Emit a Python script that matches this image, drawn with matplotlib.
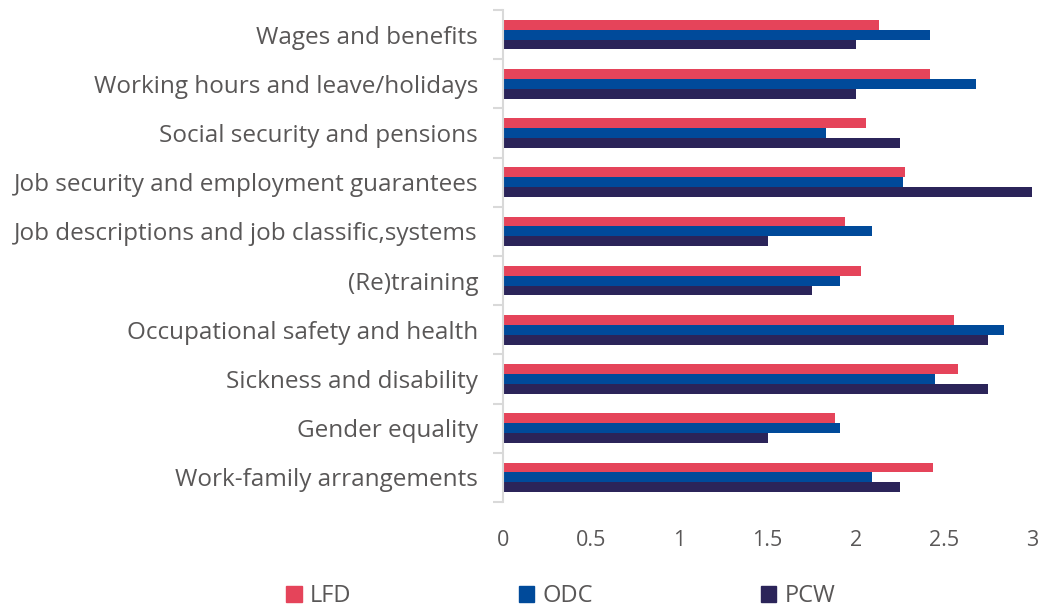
import numpy as np
import matplotlib
matplotlib.use("Agg")
import matplotlib.pyplot as plt
from matplotlib.patches import Patch

categories = [
    "Wages and benefits",
    "Working hours and leave/holidays",
    "Social security and pensions",
    "Job security and employment guarantees",
    "Job descriptions and job classific,systems",
    "(Re)training",
    "Occupational safety and health",
    "Sickness and disability",
    "Gender equality",
    "Work-family arrangements",
]
lfd = [2.13, 2.42, 2.06, 2.28, 1.94, 2.03, 2.56, 2.58, 1.88, 2.44]
odc = [2.42, 2.68, 1.83, 2.27, 2.09, 1.91, 2.84, 2.45, 1.91, 2.09]
pcw = [2.00, 2.00, 2.25, 3.00, 1.50, 1.75, 2.75, 2.75, 1.50, 2.25]
series_names = ["LFD", "ODC", "PCW"]
colors = ["#E5445A", "#004A9A", "#2B2459"]

plt.rcParams["font.family"] = ["Open Sans", "DejaVu Sans"]
text_color = "#595757"

fig = plt.figure(figsize=(10.43, 6.11), dpi=100)
ax = fig.add_axes([0.4823, 0.1784, 0.9895 - 0.4823, 0.9836 - 0.1784])

n = len(categories)
y = np.arange(n)
h = 0.2
for k, (vals, col) in enumerate(zip([lfd, odc, pcw], colors)):
    ax.barh(y + (k - 1) * h, vals, height=h, color=col, edgecolor="none")

ax.set_xlim(0, 3)
ax.set_ylim(n - 0.5, -0.5)
ax.set_xticks([0, 0.5, 1, 1.5, 2, 2.5, 3])
ax.set_xticklabels(["0", "0.5", "1", "1.5", "2", "2.5", "3"])
ax.set_yticks(y)
ax.set_yticklabels(categories)
ax.set_yticks(np.arange(-0.5, n, 1), minor=True)
ax.tick_params(axis="y", which="major", length=0, pad=18, labelsize=17.5, labelcolor=text_color)
ax.tick_params(axis="y", which="minor", length=7, width=1.5, color="#D9D9D9")
ax.tick_params(axis="x", length=0, pad=20, labelsize=15.5, labelcolor=text_color)

for s in ["top", "right", "bottom"]:
    ax.spines[s].set_visible(False)
ax.spines["left"].set_color("#D9D9D9")
ax.spines["left"].set_linewidth(1.5)

handles = [Patch(color=c, label=l) for c, l in zip(colors, series_names)]
fig.legend(handles=handles, loc="lower left", bbox_to_anchor=(0.254, -0.03), ncol=3,
           frameon=False, fontsize=17, handlelength=0.65, handleheight=0.65,
           handletextpad=0.35, columnspacing=7.1, labelcolor=text_color)

fig.savefig("out.png", dpi=100)
